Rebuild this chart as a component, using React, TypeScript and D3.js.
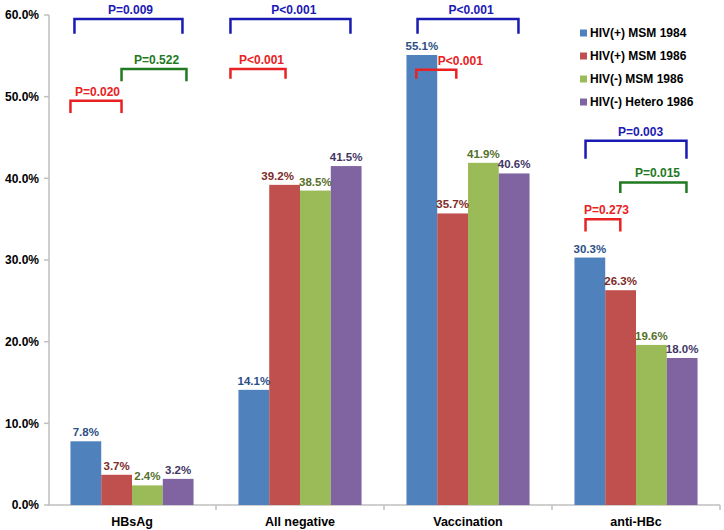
import { useEffect, useMemo } from 'react';
import * as d3 from 'd3';

const categories = ['HBsAg', 'All negative', 'Vaccination', 'anti-HBc'];
const seriesNames = ['HIV(+) MSM 1984', 'HIV(+) MSM 1986', 'HIV(-) MSM 1986', 'HIV(-) Hetero 1986'];
const hivPosMsm1984 = [7.8, 14.1, 55.1, 30.3];
const hivPosMsm1986 = [3.7, 39.2, 35.7, 26.3];
const hivNegMsm1986 = [2.4, 38.5, 41.9, 19.6];
const hivNegHetero1986 = [3.2, 41.5, 40.6, 18.0];
const yTicks = [0, 10, 20, 30, 40, 50, 60];

// p-value brackets: x in bar units inside the group, y in percent
const brackets = [
  { cat: 'HBsAg', from: 0.13, to: 3.64, top: 59.5, bottom: 57.7, text: 'P=0.009', textAt: 1.95, kind: 'blue' },
  { cat: 'HBsAg', from: 1.66, to: 3.77, top: 53.4, bottom: 51.9, text: 'P=0.522', textAt: 2.8, kind: 'green' },
  { cat: 'HBsAg', from: 0.0, to: 1.66, top: 49.5, bottom: 48.0, text: 'P=0.020', textAt: 0.88, kind: 'red' },
  { cat: 'All negative', from: -0.26, to: 3.64, top: 59.5, bottom: 57.7, text: 'P<0.001', textAt: 1.8, kind: 'blue' },
  { cat: 'All negative', from: -0.26, to: 1.53, top: 53.4, bottom: 52.2, text: 'P<0.001', textAt: 0.75, kind: 'red' },
  { cat: 'Vaccination', from: 0.36, to: 3.64, top: 59.5, bottom: 57.7, text: 'P<0.001', textAt: 2.1, kind: 'blue' },
  { cat: 'Vaccination', from: 0.32, to: 1.62, top: 53.3, bottom: 52.2, text: 'P<0.001', textAt: 1.75, kind: 'red' },
  { cat: 'anti-HBc', from: 0.36, to: 3.64, top: 44.6, bottom: 42.4, text: 'P=0.003', textAt: 2.15, kind: 'blue' },
  { cat: 'anti-HBc', from: 1.49, to: 3.64, top: 39.5, bottom: 38.2, text: 'P=0.015', textAt: 2.7, kind: 'green' },
  { cat: 'anti-HBc', from: 0.36, to: 1.49, top: 35.0, bottom: 33.5, text: 'P=0.273', textAt: 1.04, kind: 'red' },
];

const barColors = ['#4F81BD', '#C0504D', '#9BBB59', '#8064A2'];
const labelColors = ['#2B4F86', '#7E2B28', '#55702A', '#433663'];
const bracketColors: Record<string, string> = { blue: '#1A1AB4', green: '#217A21', red: '#E82222' };

const W = 724;
const H = 530;
const FONT = 'Arial, "Liberation Sans", sans-serif';

export default function App() {
  useEffect(() => {
    document.body.style.margin = '0';
  }, []);

  const series = [hivPosMsm1984, hivPosMsm1986, hivNegMsm1986, hivNegHetero1986];

  const x = useMemo(() => d3.scaleBand<string>().domain(categories).range([48, 720]), []);
  const inner = useMemo(
    () => d3.scaleBand<string>().domain(seriesNames).range([0, x.bandwidth()]).paddingOuter(0.73),
    [x],
  );
  const y = useMemo(() => d3.scaleLinear().domain([0, 60]).range([505, 15]), []);

  const bu = (cat: string, u: number) => (x(cat) ?? 0) + (inner(seriesNames[0]) ?? 0) + u * inner.step();

  // labels nudged sideways in the original so they don't collide
  const nudge = (si: number, ci: number) => (si === 1 && ci === 1 ? -7 : 0);

  return (
    <svg width={W} height={H} style={{ display: 'block', background: '#fff' }} fontFamily={FONT}>
      {/* y axis */}
      <line x1={49} x2={49} y1={y(60)} y2={y(0)} stroke="#BFBFBF" strokeWidth={1.5} />
      {yTicks.map((t) => (
        <g key={t}>
          <line x1={44} x2={49} y1={y(t)} y2={y(t)} stroke="#BFBFBF" strokeWidth={1.5} />
          <text x={39} y={y(t)} dy="0.36em" textAnchor="end" fontSize={12} fontWeight="bold" fill="#000">
            {t.toFixed(1)}%
          </text>
        </g>
      ))}
      {/* x axis */}
      <line x1={48} x2={720} y1={y(0)} y2={y(0)} stroke="#BFBFBF" strokeWidth={1.5} />
      {categories.map((c) => (
        <line key={c} x1={(x(c) ?? 0) + x.bandwidth()} x2={(x(c) ?? 0) + x.bandwidth()} y1={y(0)} y2={y(0) + 5} stroke="#BFBFBF" strokeWidth={1.5} />
      ))}
      {categories.map((c) => (
        <text key={c} x={(x(c) ?? 0) + x.bandwidth() / 2} y={526} textAnchor="middle" fontSize={12.5} fontWeight="bold" fill="#000">
          {c}
        </text>
      ))}

      {/* bars */}
      {series.map((vals, si) => (
        <g key={si}>
          {vals.map((v, ci) => {
            const cat = categories[ci];
            const bx = (x(cat) ?? 0) + (inner(seriesNames[si]) ?? 0);
            return (
              <rect key={ci} x={bx} y={y(v)} width={inner.bandwidth()} height={y(0) - y(v)} fill={barColors[si]} />
            );
          })}
        </g>
      ))}
      {series.map((vals, si) => (
        <g key={`l${si}`}>
          {vals.map((v, ci) => {
            const cat = categories[ci];
            const bx = (x(cat) ?? 0) + (inner(seriesNames[si]) ?? 0) + inner.bandwidth() / 2 + nudge(si, ci);
            return (
              <text key={ci} x={bx} y={y(v) - 5} textAnchor="middle" fontSize={11.5} fontWeight="bold" fill={labelColors[si]}>
                {v.toFixed(1)}%
              </text>
            );
          })}
        </g>
      ))}

      {/* brackets */}
      {brackets.map((b, i) => {
        const x1 = bu(b.cat, b.from);
        const x2 = bu(b.cat, b.to);
        const yt = y(b.top);
        const yb = y(b.bottom);
        const col = bracketColors[b.kind];
        return (
          <g key={i}>
            <path d={`M${x1},${yb}V${yt}H${x2}V${yb}`} fill="none" stroke={col} strokeWidth={2.5} />
            <text x={bu(b.cat, b.textAt)} y={yt - 5} textAnchor="middle" fontSize={12} fontWeight="bold" fill={col}>
              {b.text}
            </text>
          </g>
        );
      })}

      {/* legend */}
      {seriesNames.map((s, i) => (
        <g key={s} transform={`translate(580, ${33 + i * 23})`}>
          <rect x={0} y={-3.5} width={7} height={7} fill={barColors[i]} />
          <text x={10} y={0} dy="0.36em" fontSize={12} fontWeight="bold" fill="#000">
            {s}
          </text>
        </g>
      ))}
    </svg>
  );
}
